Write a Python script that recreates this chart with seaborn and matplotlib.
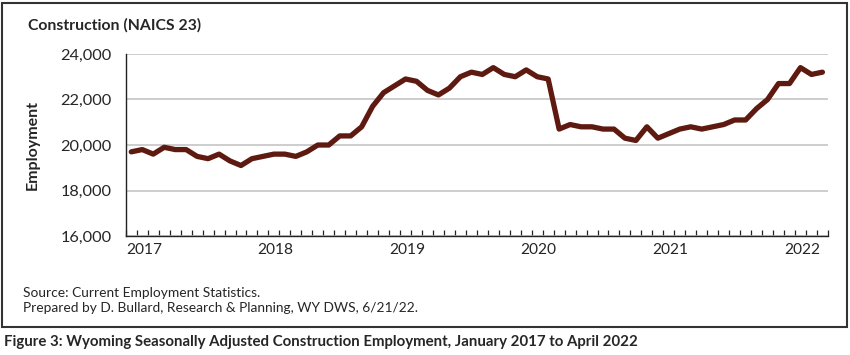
import matplotlib
matplotlib.use('Agg')
from matplotlib import pyplot as plt
from matplotlib.patches import Rectangle
import numpy as np
import pandas as pd
import seaborn as sns

# monthly employment, Jan 2017 - Apr 2022
emp_2017 = [19700, 19800, 19600, 19900, 19800, 19800, 19500, 19400, 19600, 19300, 19100, 19400]
emp_2018 = [19500, 19600, 19600, 19500, 19700, 20000, 20000, 20400, 20400, 20800, 21700, 22300]
emp_2019 = [22600, 22900, 22800, 22400, 22200, 22500, 23000, 23200, 23100, 23400, 23100, 23000]
emp_2020 = [23300, 23000, 22900, 20700, 20900, 20800, 20800, 20700, 20700, 20300, 20200, 20800]
emp_2021 = [20300, 20500, 20700, 20800, 20700, 20800, 20900, 21100, 21100, 21600, 22000, 22700]
emp_2022 = [22700, 23400, 23100, 23200]
years = ['2017', '2018', '2019', '2020', '2021', '2022']
y_ticks = [16000, 18000, 20000, 22000, 24000]

employment = emp_2017 + emp_2018 + emp_2019 + emp_2020 + emp_2021 + emp_2022
df = pd.DataFrame({'month': np.arange(len(employment)), 'employment': employment})

sns.set_style('white')
plt.rcParams['font.family'] = ['Lato', 'DejaVu Sans']

fig = plt.figure(figsize=(8.5, 3.55), dpi=100)
ax = fig.add_axes([0.148, 0.335, 0.826, 0.513])

sns.lineplot(data=df, x='month', y='employment', ax=ax, color='#5e1a10', linewidth=3.8, zorder=3)

ax.set_xlim(-0.5, len(employment) - 0.5)
ax.set_ylim(16000, 24000)
ax.set_yticks(y_ticks)
ax.set_yticklabels([f'{v:,}' for v in y_ticks], fontsize=11.8)
ax.yaxis.grid(True, color='#c0c0c0', linewidth=1.1)
ax.set_axisbelow(True)

# month boundary ticks, year labels left aligned at year start
ax.set_xticks(np.arange(-0.5, len(employment), 1.0))
ax.set_xticklabels([])
ax.tick_params(axis='x', direction='in', length=4, width=0.9, color='#222222', bottom=True)
ax.tick_params(axis='y', length=0, pad=10)
for i, yr in enumerate(years):
    ax.text(12 * i - 0.5, -0.04, yr, transform=ax.get_xaxis_transform(),
            ha='left', va='top', fontsize=11.2)

for side in ['top', 'right']:
    ax.spines[side].set_visible(False)
for side in ['left', 'bottom']:
    ax.spines[side].set_color('#222222')
    ax.spines[side].set_linewidth(1.0)

ax.set_xlabel('')
ax.set_ylabel('Employment', fontsize=11.5, fontweight='bold', labelpad=15)

fig.text(28 / 850, 1 - 25 / 355, 'Construction (NAICS 23)', fontsize=11.3, fontweight='bold',
         ha='left', va='center')
fig.text(23 / 850, 1 - 293 / 355, 'Source: Current Employment Statistics.', fontsize=9.9,
         ha='left', va='center')
fig.text(23 / 850, 1 - 308 / 355, 'Prepared by D. Bullard, Research & Planning, WY DWS, 6/21/22.',
         fontsize=9.9, ha='left', va='center')
fig.text(4 / 850, 1 - 342 / 355,
         'Figure 3: Wyoming Seasonally Adjusted Construction Employment, January 2017 to April 2022',
         fontsize=10.8, fontweight='bold', ha='left', va='center')

fig.patches.append(Rectangle((2 / 850, 1 - 327 / 355), 845 / 850, 324 / 355,
                             transform=fig.transFigure, fill=False,
                             edgecolor='#333333', linewidth=1.5))

fig.savefig('out.png', dpi=100)
